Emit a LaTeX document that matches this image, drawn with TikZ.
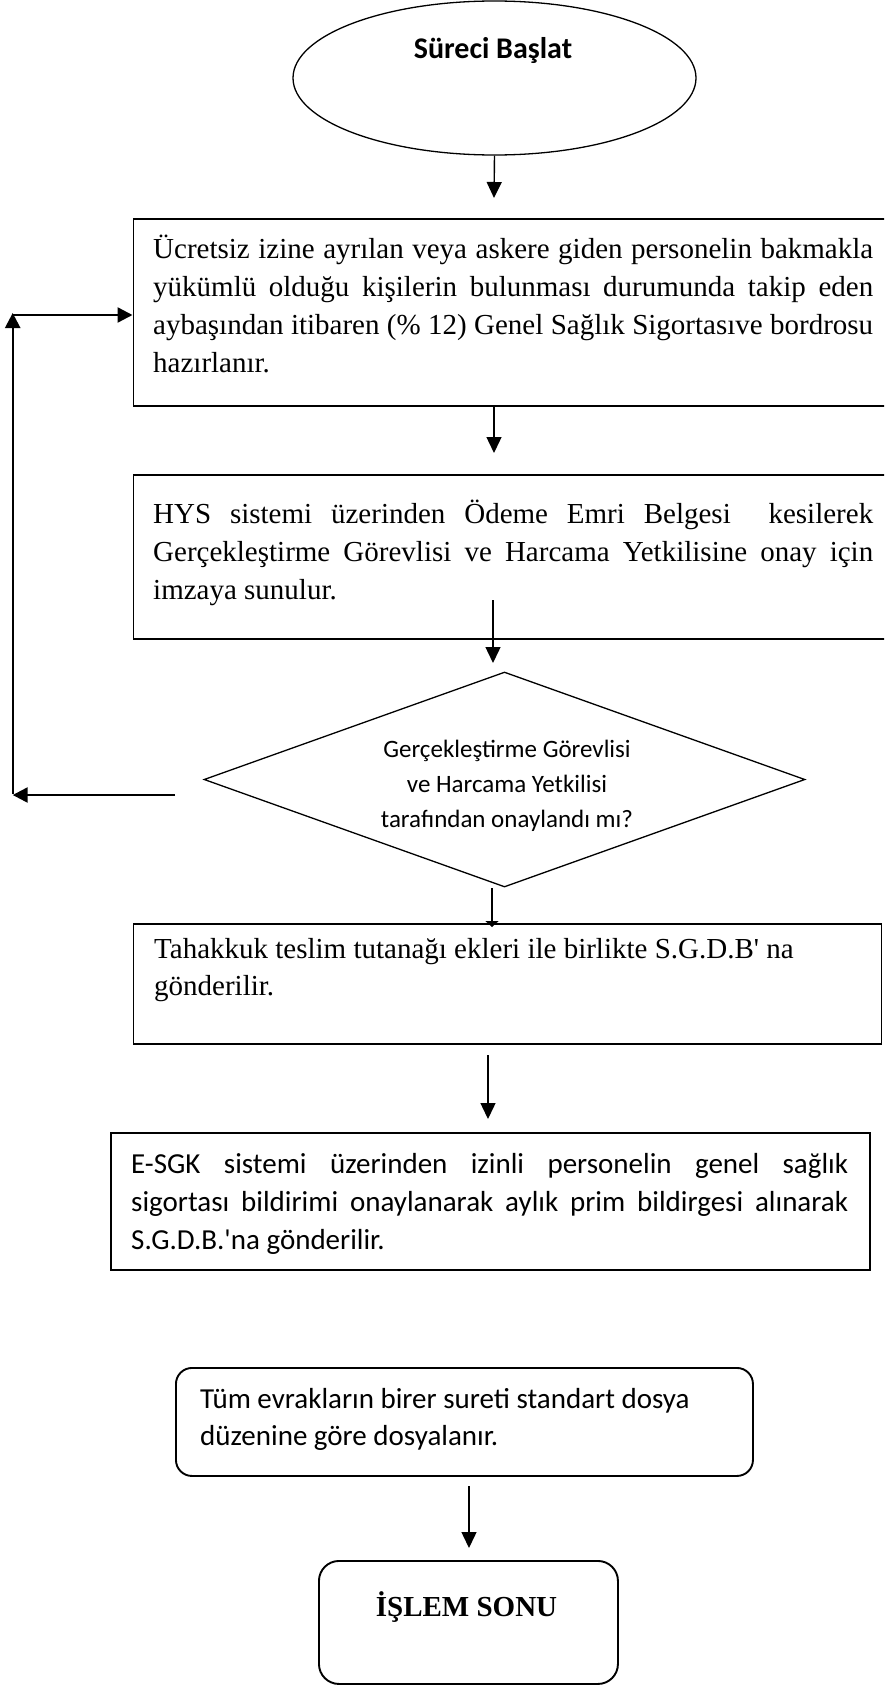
\documentclass[tikz,border=0pt]{standalone}
\usepackage{fontspec}
\newfontfamily\tnr{Liberation Serif}
\newfontfamily\calib{Carlito}
\usetikzlibrary{shapes.geometric,arrows.meta,calc}
\newcommand{\jline}[1]{\makebox[\linewidth][s]{#1}}
\begin{document}
\begin{tikzpicture}[x=1pt,y=-1pt,
  box/.style={draw, line width=1.9pt, rectangle, anchor=north west, inner sep=0pt},
  rbox/.style={box, rounded corners=16pt},
  txt/.style={inner sep=0pt, anchor=base west},
  ctxt/.style={inner sep=0pt, anchor=base},
  arr/.style={line width=1.4pt, -{Triangle[length=16pt,width=15pt]}},
  looparr/.style={line width=2.4pt, -{Triangle[length=15pt,width=15pt]}},
]
\useasboundingbox (0,0) rectangle (884,1686);
\clip (0,0) rectangle (884,1686);

% start ellipse
\node[draw, ellipse, line width=1.3pt, minimum width=403pt, minimum height=154pt, inner sep=0pt] (start) at (494.5,78) {};
\node[ctxt] (starttxt) at (493,59) {\calib\fontsize{30}{34}\selectfont\bfseries Süreci Başlat};

% box 1
\node[box, minimum width=770pt, minimum height=187pt] (b1) at (132.5,218) {};
\node[txt] (t1) at (153,258) {\parbox[t]{720pt}{\tnr\fontsize{29}{38}\selectfont
\jline{Ücretsiz izine ayrılan veya askere giden personelin bakmakla}\\
\jline{yükümlü olduğu kişilerin bulunması durumunda takip eden}\\
\jline{aybaşından itibaren (\% 12) Genel Sağlık Sigortasıve bordrosu}\\
hazırlanır.}};

% box 2
\node[box, minimum width=770pt, minimum height=164pt] (b2) at (132.5,474) {};
\node[txt] (t2) at (153,523) {\parbox[t]{720pt}{\tnr\fontsize{29}{38}\selectfont
\jline{HYS sistemi üzerinden Ödeme Emri Belgesi~ kesilerek}\\
\jline{Gerçekleştirme Görevlisi ve Harcama Yetkilisine onay için}\\
imzaya sunulur.}};

% decision
\node[draw, diamond, line width=1.3pt, minimum width=601pt, minimum height=215pt, inner sep=0pt] (dec) at (504.5,779.5) {};
\node[ctxt] (tdec) at (507,757) {\parbox[t]{320pt}{\centering\calib\fontsize{25}{35}\selectfont
Gerçekleştirme Görevlisi\\
ve Harcama Yetkilisi\\
tarafından onaylandı mı?}};

% box 3
\node[box, minimum width=748pt, minimum height=120pt] (b3) at (132.5,923) {};
\node[txt] (t3) at (154,958) {\parbox[t]{720pt}{\tnr\fontsize{29}{37}\selectfont
Tahakkuk teslim tutanağı ekleri ile birlikte S.G.D.B' na\\
gönderilir.}};

% box 4
\node[box, minimum width=759pt, minimum height=137pt] (b4) at (110,1132) {};
\node[txt] (t4) at (131,1173) {\parbox[t]{717pt}{\calib\fontsize{29}{38}\selectfont
\jline{E-SGK sistemi üzerinden izinli personelin genel sağlık}\\
\jline{sigortası bildirimi onaylanarak aylık prim bildirgesi alınarak}\\
S.G.D.B.'na gönderilir.}};

% box 5
\node[rbox, minimum width=577pt, minimum height=108pt] (b5) at (175,1367) {};
\node[txt] (t5) at (200,1408) {\parbox[t]{540pt}{\calib\fontsize{29}{37}\selectfont
Tüm evrakların birer sureti standart dosya\\
düzenine göre dosyalanır.}};

% box 6
\node[box, rounded corners=20pt, minimum width=299pt, minimum height=123pt] (b6) at (318,1560) {};
\node[ctxt] (t6) at (466.5,1616) {\tnr\fontsize{29}{34}\selectfont\bfseries İŞLEM SONU};

% connectors
\coordinate (a1e) at (494,198);
\draw[arr] (start.south) -- (a1e);
\coordinate (a2s) at (494,405);
\coordinate (a2e) at (494,453);
\draw[arr] (a2s) -- (a2e);
\coordinate (a3s) at (493,600);
\coordinate (a3e) at (493,663);
\draw[arr] (a3s) -- (a3e);
\coordinate (a4s) at (492,888);
\coordinate (a4e) at (492,927);
\draw[line width=1.4pt, -{Triangle[length=6pt,width=13pt]}] (a4s) -- (a4e);
\coordinate (a5s) at (488,1055);
\coordinate (a5e) at (488,1119);
\draw[arr] (a5s) -- (a5e);
\coordinate (a6s) at (469,1486);
\coordinate (a6e) at (469,1548);
\draw[arr] (a6s) -- (a6e);

% loop back
\coordinate (l1) at (175,795);
\coordinate (l2) at (12.7,795);
\draw[looparr] (l1) -- (l2);
\coordinate (l3) at (12.7,794);
\coordinate (l4) at (12.7,313);
\draw[looparr] (l3) -- (l4);
\coordinate (l5) at (12.7,315);
\draw[looparr] (l5) -- (l5 -| b1.west);
\end{tikzpicture}
\end{document}
